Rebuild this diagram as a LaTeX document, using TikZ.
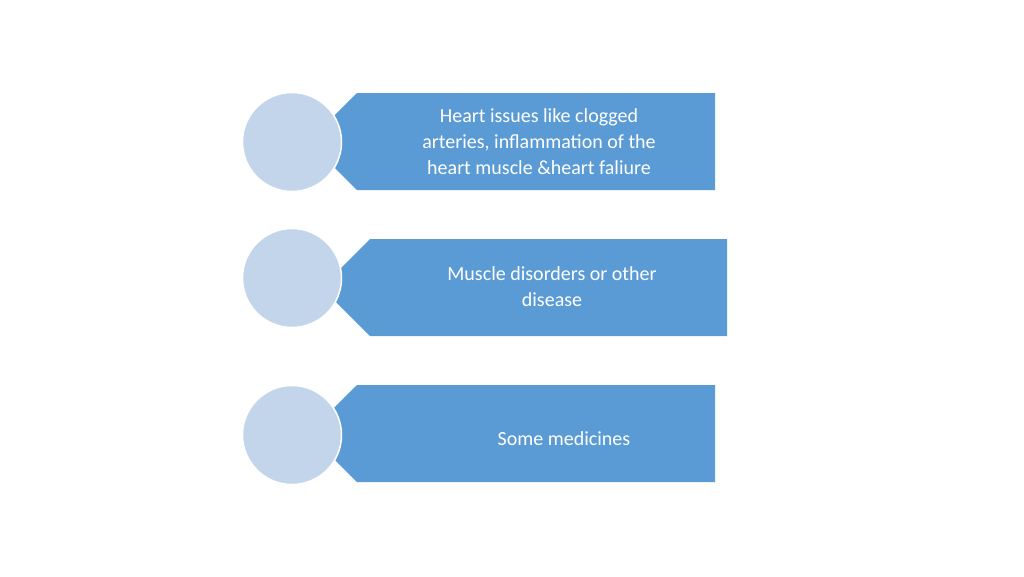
\documentclass[tikz,border=0pt]{standalone}
\usepackage{fontspec}
\setmainfont{Carlito}
\definecolor{boxblue}{HTML}{5B9BD5}
\definecolor{circblue}{HTML}{C3D5EA}
\begin{document}
\begin{tikzpicture}[x=1pt,y=-1pt,
  circ/.style={circle,fill=circblue,draw=white,line width=1.5pt,minimum size=99pt,inner sep=0pt},
  txt/.style={text=white,font=\fontsize{20}{26}\selectfont,align=center}]
\useasboundingbox (0,0) rectangle (1024,576);
\fill[boxblue] (357,93) -- (715,93) -- (715,190) -- (357,190) -- (308,141.5) -- cycle;
\fill[boxblue] (370,239) -- (727,239) -- (727,336) -- (370,336) -- (321.5,287.5) -- cycle;
\fill[boxblue] (357,385) -- (715,385) -- (715,482) -- (357,482) -- (308,433.5) -- cycle;
\node[circ] (c1) at (292,142) {};
\node[circ] (c2) at (292,278) {};
\node[circ] (c3) at (292,435) {};
\node[txt] (t1) at (539,142) {Heart issues like clogged\\arteries, inflammation of the\\heart muscle \&heart faliure};
\node[txt] (t2) at (552,287) {Muscle disorders or other\\disease};
\node[txt] (t3) at (564,439) {Some medicines};
\end{tikzpicture}
\end{document}
